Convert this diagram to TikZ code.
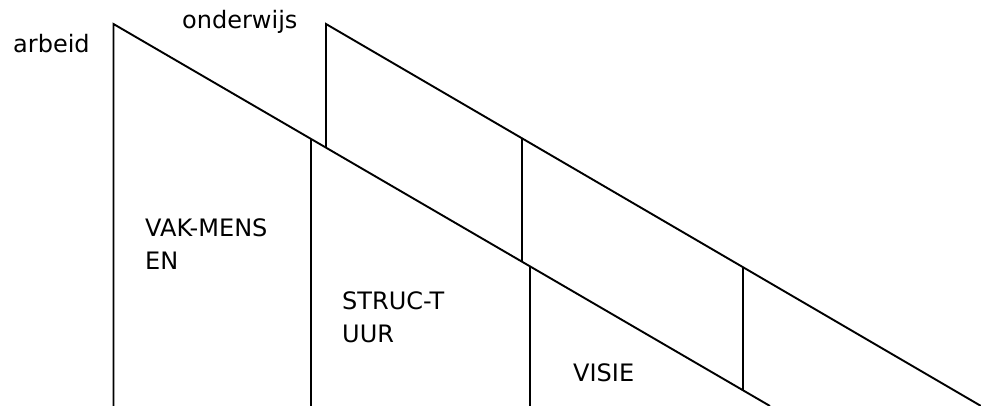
\documentclass[tikz,border=0pt]{standalone}
\usepackage{fontspec}
\setmainfont{DejaVu Sans}

\tikzset{
  stroke/.style={black,line width=1.9pt},
  lbl/.style={font=\fontsize{24}{32.5}\selectfont,inner sep=0pt,anchor=base west,align=left}
}

\begin{document}
\begin{tikzpicture}[x=1pt,y=-1pt]
\useasboundingbox (0,0) rectangle (981,406);
% the two slanted bands
\coordinate (arbeidtop) at (113.5,24);
\coordinate (arbeidend) at (770,406);
\coordinate (onderwijstop) at (326,24);
\coordinate (onderwijsend) at (981,406);
\draw[stroke] (113.5,406) -- (arbeidtop) -- (arbeidend);
\draw[stroke] (326,147.7) -- (onderwijstop) -- (onderwijsend);
% dividers
\draw[stroke] (311,138.9) -- (311,406);
\draw[stroke] (522,138.3) -- (522,261.7);
\draw[stroke] (530,266.4) -- (530,406);
\draw[stroke] (743,267.1) -- (743,390.4);
% labels (base = last line)
\node[lbl] (arbeid) at (13,53) {arbeid};
\node[lbl] (onderwijs) at (182,29) {onderwijs};
\node[lbl] (vakmensen) at (145,269) {VAK-MENS\\EN};
\node[lbl] (structuur) at (342,342) {STRUC-T\\UUR};
\node[lbl] (visie) at (573,381) {VISIE};
\end{tikzpicture}
\end{document}
